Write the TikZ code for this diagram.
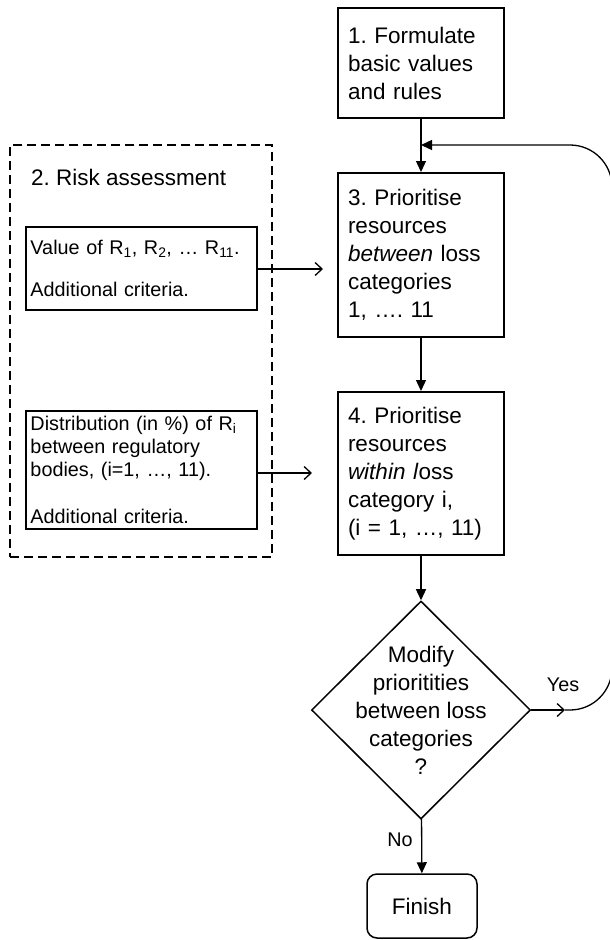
\documentclass[tikz,border=0pt]{standalone}
\usepackage{fontspec}
\setmainfont{Liberation Sans}
\usepackage{tikz}
\usetikzlibrary{arrows.meta,shapes.geometric,positioning}
\tikzset{>=Triangle[]}
\frenchspacing

\newcommand{\bigtxt}{\fontsize{22.5pt}{28pt}\selectfont}
\newcommand{\smalltxt}{\fontsize{19.8pt}{23pt}\selectfont}

\tikzset{
  stepbox/.style={draw, line width=2pt, text width=146pt, inner xsep=10pt,
    inner ysep=0pt, align=left, font=\bigtxt},
  infobox/.style={draw, line width=1.2pt, text width=222pt, inner xsep=4.5pt,
    inner ysep=0pt, align=left, font=\smalltxt},
  riskframe/.style={draw, dashed, dash pattern=on 9pt off 5pt, line width=1.2pt,
    minimum width=262pt, minimum height=412pt, inner sep=0pt},
  decision/.style={draw, diamond, line width=1.5pt, minimum width=219pt,
    minimum height=218pt, inner sep=0pt},
  endbox/.style={draw, rounded corners=10pt, line width=1.5pt, minimum width=110pt,
    minimum height=64pt, font=\bigtxt},
  flow/.style={line width=1.3pt, -{Triangle[length=11pt,width=10pt]}},
  feedin/.style={line width=1.3pt, -{Straight Barb[length=7pt,width=13pt]}}
}

\begin{document}
\begin{tikzpicture}[x=1pt, y=-1pt]
  \useasboundingbox (0,0) rectangle (610,940);
  \clip (0,0) rectangle (610,940);

  % main steps
  \node[stepbox, minimum height=110pt] (box1) at (421,63) {1. Formulate\\basic values\\and rules};
  \node[stepbox, minimum height=164pt] (box3) at (421,255) {3. Prioritise\\resources\\\textit{between} loss\\categories\\1, …. 11};
  \node[stepbox, minimum height=163pt] (box4) at (421,473.5) {4. Prioritise\\resources\\\textit{within l}oss\\category i,\\(i = 1, …, 11)};

  \node[decision] (decide) at (421,710) {};
  \node[font=\bigtxt, align=center, inner sep=0pt] (decidetext) at (decide) {Modify\\prioritities\\between loss\\categories\\?};

  \node[endbox] (finish) at (422,906) {Finish};

  % risk assessment
  \node[riskframe] (risk) at (141,351) {};
  \node[font=\bigtxt, anchor=west, inner sep=0pt] (riskttl) at (31,177) {2. Risk assessment};
  \node[infobox, minimum height=83pt] (boxA) at (141.5,268.5) {Value of R\textsubscript{1}, R\textsubscript{2}, … R\textsubscript{11}.\\[19pt]Additional criteria.};
  \node[infobox, minimum height=118pt] (boxB) at (141.5,470) {Distribution (in \%) of R\textsubscript{i}\\between regulatory\\bodies, (i=1, …, 11).\\[24pt]Additional criteria.};

  \coordinate (inA) at (323,269);
  \coordinate (inB) at (312,473);
  \coordinate (feed) at (421,145);
  \coordinate (yesend) at (565,710);
  \coordinate (loopbot) at (612,710);
  \coordinate (looptop) at (612,145);

  \draw[flow] (box1) -- (box3);
  \draw[flow] (box3) -- (box4);
  \draw[flow] (box4) -- (decide);
  \draw[flow] (decide) -- (finish);

  \draw[feedin] (boxA.east |- inA) -- (inA);
  \draw[feedin] (boxB.east |- inB) -- (inB);

  % loop back
  \draw[feedin] (decide.east) -- (yesend);
  \draw[flow, rounded corners=42pt] (yesend) -- (loopbot) -- (looptop) -- (feed);

  \node[font=\smalltxt] (yes) at (563,685) {Yes};
  \node[font=\smalltxt] (no) at (400,840) {No};
\end{tikzpicture}
\end{document}
